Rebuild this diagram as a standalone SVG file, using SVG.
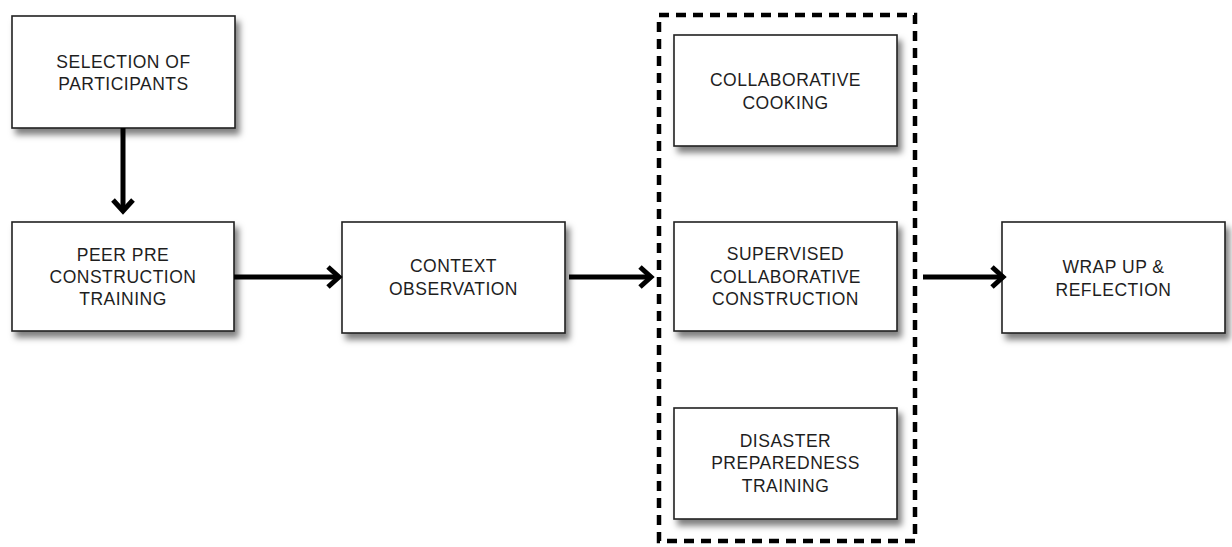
<svg xmlns="http://www.w3.org/2000/svg" width="1232" height="547" viewBox="0 0 1232 547">
<style>
.box{fill:#fff;stroke:#222;stroke-width:1.6;filter:url(#sh)}
.t{font-family:"Liberation Sans",Arial,sans-serif;font-size:17.5px;letter-spacing:0.5px;fill:#1e1e1e;text-anchor:middle}
.con{stroke:#000;stroke-width:5;fill:none;marker-end:url(#ah)}
.grp{fill:none;stroke:#000;stroke-width:4.5;stroke-dasharray:10 7}
</style>
<defs>
<filter id="sh" x="-10%" y="-10%" width="130%" height="140%">
<feDropShadow dx="4" dy="6" stdDeviation="3" flood-color="#000" flood-opacity="0.5"/>
</filter>
<marker id="ah" markerUnits="userSpaceOnUse" viewBox="-16 -14 20 28" markerWidth="20" markerHeight="28" refX="0" refY="0" orient="auto">
<path d="M-11,-10 L0,0 L-11,10" fill="none" stroke="#000" stroke-width="5" stroke-linejoin="miter"/>
</marker>
</defs>
<rect width="1232" height="547" fill="#fff"/>
<rect id="group-box" class="grp" x="659" y="15" width="256" height="526"/>
<g id="n-selection"><rect class="box" x="12" y="16" width="223" height="112"/>
<text class="t" x="123.5" y="68">SELECTION OF</text><text class="t" x="123.5" y="90">PARTICIPANTS</text></g>
<g id="n-peer"><rect class="box" x="12" y="222" width="222" height="109"/>
<text class="t" x="123" y="260.5">PEER PRE</text><text class="t" x="123" y="283">CONSTRUCTION</text><text class="t" x="123" y="305">TRAINING</text></g>
<g id="n-context"><rect class="box" x="342" y="222" width="223" height="111"/>
<text class="t" x="453.5" y="272">CONTEXT</text><text class="t" x="453.5" y="294.5">OBSERVATION</text></g>
<g id="n-cooking"><rect class="box" x="674" y="35" width="223" height="111"/>
<text class="t" x="785.5" y="86">COLLABORATIVE</text><text class="t" x="785.5" y="108.5">COOKING</text></g>
<g id="n-supervised"><rect class="box" x="674" y="222" width="223" height="109"/>
<text class="t" x="785.5" y="260">SUPERVISED</text><text class="t" x="785.5" y="283">COLLABORATIVE</text><text class="t" x="785.5" y="305">CONSTRUCTION</text></g>
<g id="n-disaster"><rect class="box" x="674" y="408" width="223" height="111"/>
<text class="t" x="785.5" y="446.5">DISASTER</text><text class="t" x="785.5" y="469">PREPAREDNESS</text><text class="t" x="785.5" y="491.5">TRAINING</text></g>
<g id="n-wrap"><rect class="box" x="1002" y="222" width="223" height="111"/>
<text class="t" x="1113.5" y="273">WRAP UP &amp;</text><text class="t" x="1113.5" y="296">REFLECTION</text></g>
<g id="connectors">
<line class="con" x1="123" y1="128" x2="123" y2="211"/>
<line class="con" x1="234" y1="277" x2="339" y2="277"/>
<line class="con" x1="569" y1="277" x2="651" y2="277"/>
<line class="con" x1="923" y1="277" x2="1003" y2="277"/>
</g>
</svg>
